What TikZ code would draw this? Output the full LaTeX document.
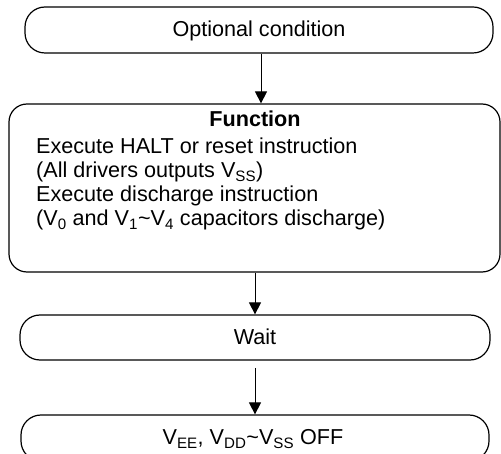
\documentclass[tikz,border=0pt]{standalone}
\usepackage{fontspec}
\setmainfont{Liberation Sans}
\usetikzlibrary{arrows.meta}
\begin{document}
\begin{tikzpicture}[x=1pt,y=1pt,
  box/.style={draw=black, line width=1.2pt, rounded corners=20pt, inner sep=0pt},
  lbl/.style={font=\fontsize{21.6}{24}\selectfont, inner sep=0pt, anchor=base},
  line/.style={font=\fontsize{21.6}{24}\selectfont, inner sep=0pt, anchor=base west},
  arr/.style={draw=black, line width=0.9pt, -{Triangle[length=12pt,width=12pt]}}]
\useasboundingbox (0,0) rectangle (501,-454);
% boxes
\node[box, minimum width=468pt, minimum height=46pt] (cond) at (259,-30) {};
\node[box, rounded corners=18pt, minimum width=491pt, minimum height=168pt] (fn) at (254.5,-188) {};
\node[box, minimum width=470pt, minimum height=45pt] (wait) at (255,-337.5) {};
\node[box, minimum width=468pt, minimum height=46pt] (off) at (255,-438) {};
% texts
\node[lbl] (condt) at (259,-37) {Optional condition};
\node[lbl, font=\fontsize{21.6}{24}\selectfont\bfseries] (fnt) at (255,-127) {Function};
\node[line] (l1) at (36,-154) {Execute HALT or reset instruction};
\node[line] (l2) at (36,-178) {(All drivers outputs V\textsubscript{SS})};
\node[line] (l3) at (36,-202) {Execute discharge instruction};
\node[line] (l4) at (36,-226) {(V\textsubscript{0} and V\textsubscript{1}\textasciitilde V\textsubscript{4} capacitors discharge)};
\node[lbl] (waitt) at (255,-345) {Wait};
\node[lbl] (offt) at (253,-445) {V\textsubscript{EE}, V\textsubscript{DD}\textasciitilde V\textsubscript{SS} OFF};
% connectors
\coordinate (x1) at (261,0);
\coordinate (x2) at (255,0);
\coordinate (a3) at (255,-368);
\draw[arr] (cond.south -| x1) -- (fn.north -| x1);
\draw[arr] (fn.south -| x2) -- (wait.north -| x2);
\draw[arr] (a3) -- (off.north -| a3);
\end{tikzpicture}
\end{document}
